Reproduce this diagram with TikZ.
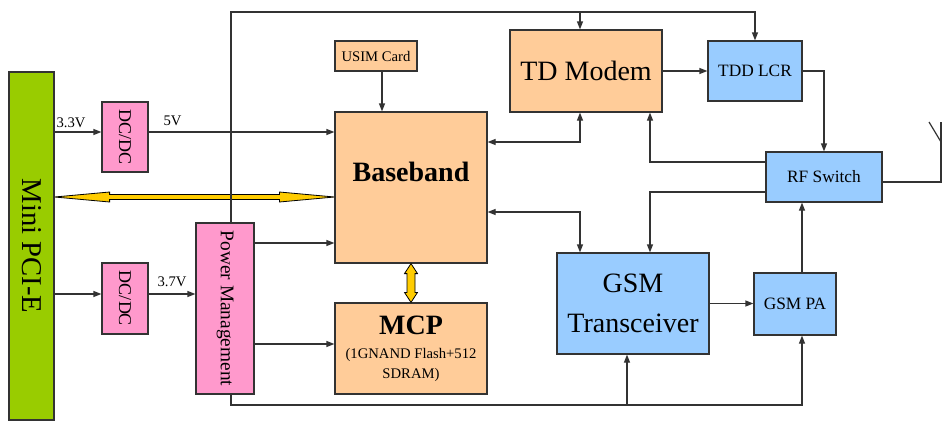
\documentclass[tikz,border=0pt]{standalone}
\usepackage{fontspec}
\setmainfont{Liberation Serif}
\usepackage{graphicx}
\usetikzlibrary{arrows.meta,calc}

\definecolor{edge}{HTML}{333333}
\definecolor{chipfill}{HTML}{FFCC99}
\definecolor{rffill}{HTML}{99CCFF}
\definecolor{pwrfill}{HTML}{FF99CC}
\definecolor{slotfill}{HTML}{99CC00}
\definecolor{busfill}{HTML}{FFCC00}

\begin{document}
\begin{tikzpicture}[x=0.75pt, y=-0.75pt,
        >={Triangle[length=6pt,width=4.5pt]},
        blk/.style={draw=edge, line width=0.9pt, inner sep=2pt, align=center},
        chip/.style={blk, fill=chipfill},
        rfpart/.style={blk, fill=rffill},
        supply/.style={blk, fill=pwrfill},
        slot/.style={blk, fill=slotfill},
        wire/.style={draw=edge, line width=0.9pt},
        bus/.style={draw=black, line width=0.6pt, fill=busfill},
        big/.style={font=\fontsize{21}{30}\selectfont},
        mid/.style={font=\fontsize{13}{15}\selectfont},
        small/.style={font=\fontsize{11}{13}\selectfont},
        volt/.style={font=\fontsize{11}{12}\selectfont, inner sep=1pt}
    ]
    \useasboundingbox (0,0) rectangle (943,421);

    % blocks
    \node[slot, minimum width=33.75pt, minimum height=261pt, font=\fontsize{21.5}{24}\selectfont] (pci) at (31.5,246) {\rotatebox{-90}{Mini PCI-E}};
    \node[supply, minimum width=34.5pt, minimum height=52.5pt, font=\fontsize{13.5}{15}\selectfont] (dc1) at (125,137) {\rotatebox{-90}{DC/DC}};
    \node[supply, minimum width=34.5pt, minimum height=53.25pt, font=\fontsize{13.5}{15}\selectfont] (dc2) at (125,298.5) {\rotatebox{-90}{DC/DC}};
    \node[supply, minimum width=43.5pt, minimum height=128.25pt, font=\fontsize{14.5}{16}\selectfont] (pm) at (225,308.5) {\rotatebox{-90}{Power Management}};
    \node[chip, minimum width=114pt, minimum height=113.25pt] (bb) at (411,187.5) {};
    \node[font=\fontsize{21}{24}\selectfont\bfseries] (bbtxt) at ([yshift=12pt]bb.center) {Baseband};
    \node[chip, minimum width=114pt, minimum height=68.25pt, font=\fontsize{11}{15}\selectfont] (mcp) at (411,348.5)
        {{\fontsize{21}{21}\selectfont\bfseries MCP}\\[3pt](1GNAND Flash+512\\SDRAM)};
    \node[chip, minimum width=61.5pt, minimum height=22.5pt, small] (usim) at (376,56) {USIM Card};
    \node[chip, minimum width=114pt, minimum height=61.5pt, big] (td) at (586,71) {TD Modem};
    \node[rfpart, minimum width=70.5pt, minimum height=45pt, mid] (tdd) at (755,71) {TDD LCR};
    \node[rfpart, minimum width=87pt, minimum height=37.5pt, mid] (rf) at (824,177) {RF Switch};
    \node[rfpart, minimum width=114pt, minimum height=75.75pt, big] (gsm) at (633,303.5) {GSM\\Transceiver};
    \node[rfpart, minimum width=61.5pt, minimum height=46.5pt, mid] (pa) at (795,304) {GSM PA};

    % bend points of the wiring
    \coordinate (railtop) at (231,12);
    \coordinate (railbot) at (231,405);
    \coordinate (ux) at (382,0);
    \coordinate (bbx) at (580,0);
    \coordinate (gx) at (627,0);
    \coordinate (rfx) at (650,0);
    \coordinate (pax) at (802,0);
    \coordinate (v33) at (0,132);
    \coordinate (v37) at (0,294);
    \coordinate (pbb) at (0,243);
    \coordinate (pmcp) at (0,344);
    \coordinate (ybus) at (0,197);
    \coordinate (tdrow) at (0,142);
    \coordinate (gsmrow) at (0,212);
    \coordinate (rfhi) at (0,162);
    \coordinate (rflo) at (0,192);
    \coordinate (antrow) at (0,182);
    \coordinate (mast) at (941,122);

    % host bus and memory bus
    \coordinate (yl) at (pci.east |- ybus);
    \coordinate (yr) at (bb.west |- ybus);
    \draw[bus] (yl) -- ++(55,-5) -- ++(0,2.5) -- ($(yr)+(-55,-2.5)$) -- ++(0,-2.5) -- (yr)
        -- ++(-55,5) -- ++(0,-2.5) -- ($(yl)+(55,2.5)$) -- ++(0,2.5) -- cycle;
    \draw[bus] (bb.south) -- ++(-6.5,10) -- ++(2.5,0) -- ($(mcp.north)+(-4,-10)$) -- ++(-2.5,0) -- (mcp.north)
        -- ++(6.5,-10) -- ++(-2.5,0) -- ($(bb.south)+(4,10)$) -- ++(2.5,0) -- cycle;

    % power
    \draw[wire, ->] (pci.east |- v33) node[volt, anchor=south west, yshift=2pt] {3.3V} -- (dc1.west |- v33);
    \draw[wire, ->] (dc1.east |- v33) -- node[volt, anchor=south west, pos=0.07, yshift=3pt] {5V} (bb.west |- v33);
    \draw[wire, ->] (pci.east |- v37) -- (dc2.west |- v37);
    \draw[wire, ->] (dc2.east |- v37) -- node[volt, above, yshift=4pt] {3.7V} (pm.west |- v37);
    \draw[wire, ->] (pm.east |- pbb) -- (bb.west |- pbb);
    \draw[wire, ->] (pm.east |- pmcp) -- (mcp.west |- pmcp);
    \draw[wire, ->] (pm.north -| railtop) -- (railtop) -| (tdd.north);
    \draw[wire, ->] (railtop -| bbx) -- (td.north -| bbx);
    \draw[wire, ->] (pm.south -| railbot) -- (railbot) -| (pa.south -| pax);
    \draw[wire, ->] (railbot -| gx) -- (gsm.south -| gx);

    % signals
    \draw[wire, ->] (usim.south -| ux) -- (bb.north -| ux);
    \draw[wire, <->] (bb.east |- tdrow) -| (td.south -| bbx);
    \draw[wire, <->] (bb.east |- gsmrow) -| (gsm.north -| bbx);
    \draw[wire, ->] (td.east) -- (tdd.west);
    \draw[wire, ->] (tdd.east) -| (rf.north);
    \draw[wire, ->] (rf.west |- rfhi) -| (td.south -| rfx);
    \draw[wire, ->] (rf.west |- rflo) -| (gsm.north -| rfx);
    \draw[wire, ->] (gsm.east) -- (gsm.east -| pa.west);
    \draw[wire, ->] (pa.north -| pax) -- (rf.south -| pax);

    % antenna
    \draw[wire] (rf.east |- antrow) -| (mast);
    \draw[wire] ($(mast)+(-12,0)$) -- ($(mast)+(0,20)$);
\end{tikzpicture}
\end{document}
